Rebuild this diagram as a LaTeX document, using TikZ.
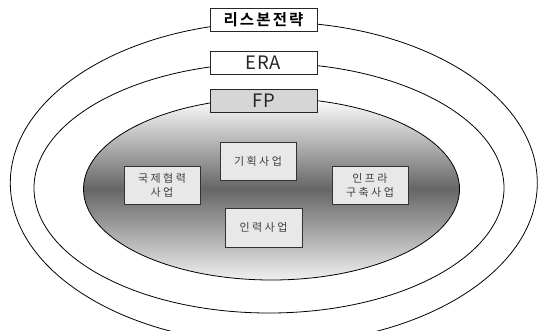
\documentclass[tikz,border=0pt]{standalone}
\usepackage{fontspec}
\setmainfont{Noto Sans CJK KR}
\newfontfamily\krfont[LetterSpace=4]{Noto Sans CJK KR}
\newfontfamily\krspaced[LetterSpace=22]{Noto Sans CJK KR}
\newfontfamily\krboldsp[LetterSpace=14]{Noto Sans CJK KR Bold}
\begin{document}
\begin{tikzpicture}[x=1pt,y=-1pt,
  ring/.style={draw=black,line width=0.8pt},
  titlebox/.style={draw=black!85,line width=0.9pt,fill=white,minimum width=107pt,minimum height=23.5pt,inner sep=0pt},
  taskbox/.style={draw=black!80,line width=0.9pt,fill=black!9,minimum width=76pt,minimum height=38pt,inner sep=0pt,align=center,font=\krspaced\fontsize{11}{14}\selectfont,text=black!75}
]
\useasboundingbox (0,0) rectangle (540,330);
\clip (0,0) rectangle (540,330);
\draw[ring] (273.8,183) ellipse [x radius=263.5, y radius=161];
\draw[ring] (269,188) ellipse [x radius=235, y radius=125];
\path[draw=black,line width=0.8pt,top color=white,bottom color=black!6,middle color=black!60] (271.5,189) ellipse [x radius=188, y radius=91];
\node[titlebox,font=\krboldsp\fontsize{15.5}{17}\selectfont] (lisbon) at (263.5,20) {리스본전략};
\node[titlebox,font=\krfont\fontsize{18.5}{19}\selectfont,text=black!85] (era) at (263.5,62.7) {ERA};
\node[titlebox,fill=black!16,font=\krfont\fontsize{18.5}{19}\selectfont,text=black!85] (fp) at (263.5,101) {FP};
\node[taskbox] (plan) at (258,161) {기획사업};
\node[taskbox] (intl) at (162,185) {국제협력\\사업};
\node[taskbox] (infra) at (370,185) {인프라\\구축사업};
\node[taskbox,minimum width=77pt,minimum height=39pt] (hr) at (263.5,227.5) {인력사업};
\end{tikzpicture}
\end{document}
